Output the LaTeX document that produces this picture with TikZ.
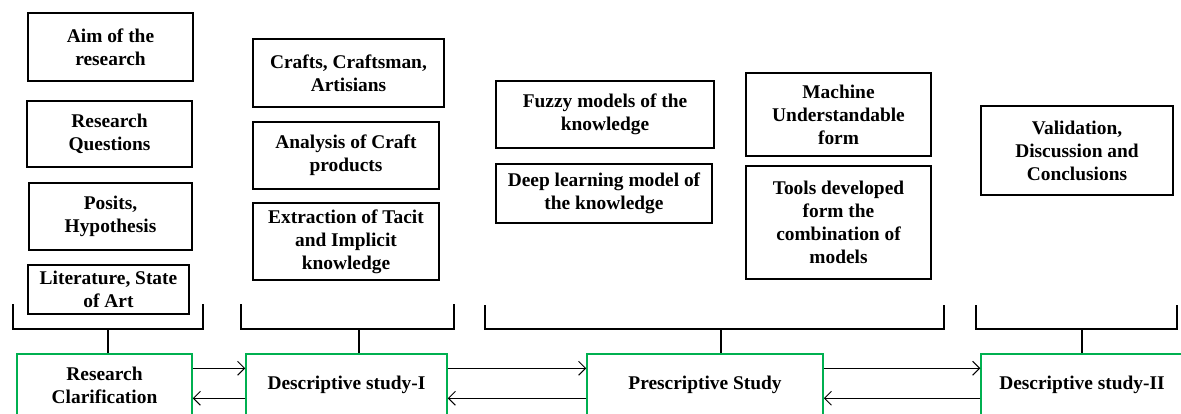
\documentclass[tikz,border=0pt]{standalone}
\usepackage{fontspec}
\setmainfont{Liberation Serif}
\usetikzlibrary{arrows.meta}
\definecolor{stagegreen}{RGB}{0,176,80}
\tikzset{
  txt/.style={font=\bfseries\fontsize{19.4}{23}\selectfont, align=center, inner sep=0pt},
  topicbox/.style={txt, draw=black, line width=1.7pt, rectangle},
  stagebox/.style={txt, draw=stagegreen, line width=1.5pt, rectangle, fill=white},
  bracket/.style={draw=black, line width=1.7pt},
  flow/.style={draw=black, line width=1pt, -{Straight Barb[length=7pt, width=14pt, line width=1pt]}}
}
\begin{document}
\begin{tikzpicture}[x=1pt, y=-1pt]
\useasboundingbox (0,0) rectangle (1181,413);
\clip (0,0) rectangle (1181,413);

% research clarification topics
\node[topicbox, minimum width=165pt, minimum height=68pt] (aim) at (110.5,47) {Aim of the\\research};
\node[topicbox, minimum width=165pt, minimum height=66pt] (rq) at (109.5,134) {Research\\Questions};
\node[topicbox, minimum width=163pt, minimum height=67pt] (pos) at (110.5,216.5) {Posits,\\Hypothesis};
\node[topicbox, minimum width=161pt, minimum height=49pt] (lit) at (108.5,289.5) {Literature, State\\of Art};

% descriptive study I topics
\node[topicbox, minimum width=191pt, minimum height=68pt] (craft) at (348.5,73) {Crafts, Craftsman,\\Artisians};
\node[topicbox, minimum width=186pt, minimum height=67pt] (ana) at (346,155.5) {Analysis of Craft\\products};
\node[topicbox, minimum width=186pt, minimum height=77pt] (ext) at (346,241.5) {Extraction of Tacit\\and Implicit\\knowledge};

% prescriptive study topics
\node[topicbox, minimum width=218pt, minimum height=67pt] (fuzzy) at (605,114.5) {Fuzzy models of the\\knowledge};
\node[topicbox, minimum width=216pt, minimum height=59pt] (deep) at (604,193.5) {Deep learning model of\\the knowledge};
\node[topicbox, minimum width=185pt, minimum height=83pt] (mach) at (838.5,114.5) {Machine\\Understandable\\form};
\node[topicbox, minimum width=185pt, minimum height=113pt] (tools) at (838.5,222.5) {Tools developed\\form the\\combination of\\models};

% descriptive study II topic
\node[topicbox, minimum width=192pt, minimum height=89pt] (val) at (1077,150.5) {Validation,\\Discussion and\\Conclusions};

% stages
\node[stagebox, minimum width=175pt, minimum height=62pt] (rc) at (104.5,385) {Research\\Clarification};
\node[stagebox, minimum width=201pt, minimum height=62pt] (ds1) at (346.5,385) {Descriptive study-I};
\node[stagebox, minimum width=236pt, minimum height=62pt] (ps) at (705,385) {Prescriptive Study};
\node[stagebox, minimum width=202pt, minimum height=62pt] (ds2) at (1082,385) {Descriptive study-II};

% brackets grouping topics above each stage
\coordinate (b1) at (108,329);
\coordinate (b2) at (359,329);
\coordinate (b3) at (721,329);
\coordinate (b4) at (1082,329);
\draw[bracket] (13,304) -- (13,329) -- (203,329) -- (203,304);
\draw[bracket] (241,304) -- (241,329) -- (454,329) -- (454,304);
\draw[bracket] (485,305) -- (485,329) -- (944,329) -- (944,305);
\draw[bracket] (976,305) -- (976,329) -- (1177,329) -- (1177,305);
\draw[bracket] (b1) -- (b1 |- rc.north);
\draw[bracket] (b2) -- (b2 |- ds1.north);
\draw[bracket] (b3) -- (b3 |- ps.north);
\draw[bracket] (b4) -- (b4 |- ds2.north);

% forward and backward flow between stages
\draw[flow] ([yshift=-15pt]rc.north east) -- ([yshift=-15pt]ds1.north west);
\draw[flow] ([yshift=-45pt]ds1.north west) -- ([yshift=-45pt]rc.north east);
\draw[flow] ([yshift=-15pt]ds1.north east) -- ([yshift=-15pt]ps.north west);
\draw[flow] ([yshift=-45pt]ps.north west) -- ([yshift=-45pt]ds1.north east);
\draw[flow] ([yshift=-15pt]ps.north east) -- ([yshift=-15pt]ds2.north west);
\draw[flow] ([yshift=-45pt]ds2.north west) -- ([yshift=-45pt]ps.north east);
\end{tikzpicture}
\end{document}
